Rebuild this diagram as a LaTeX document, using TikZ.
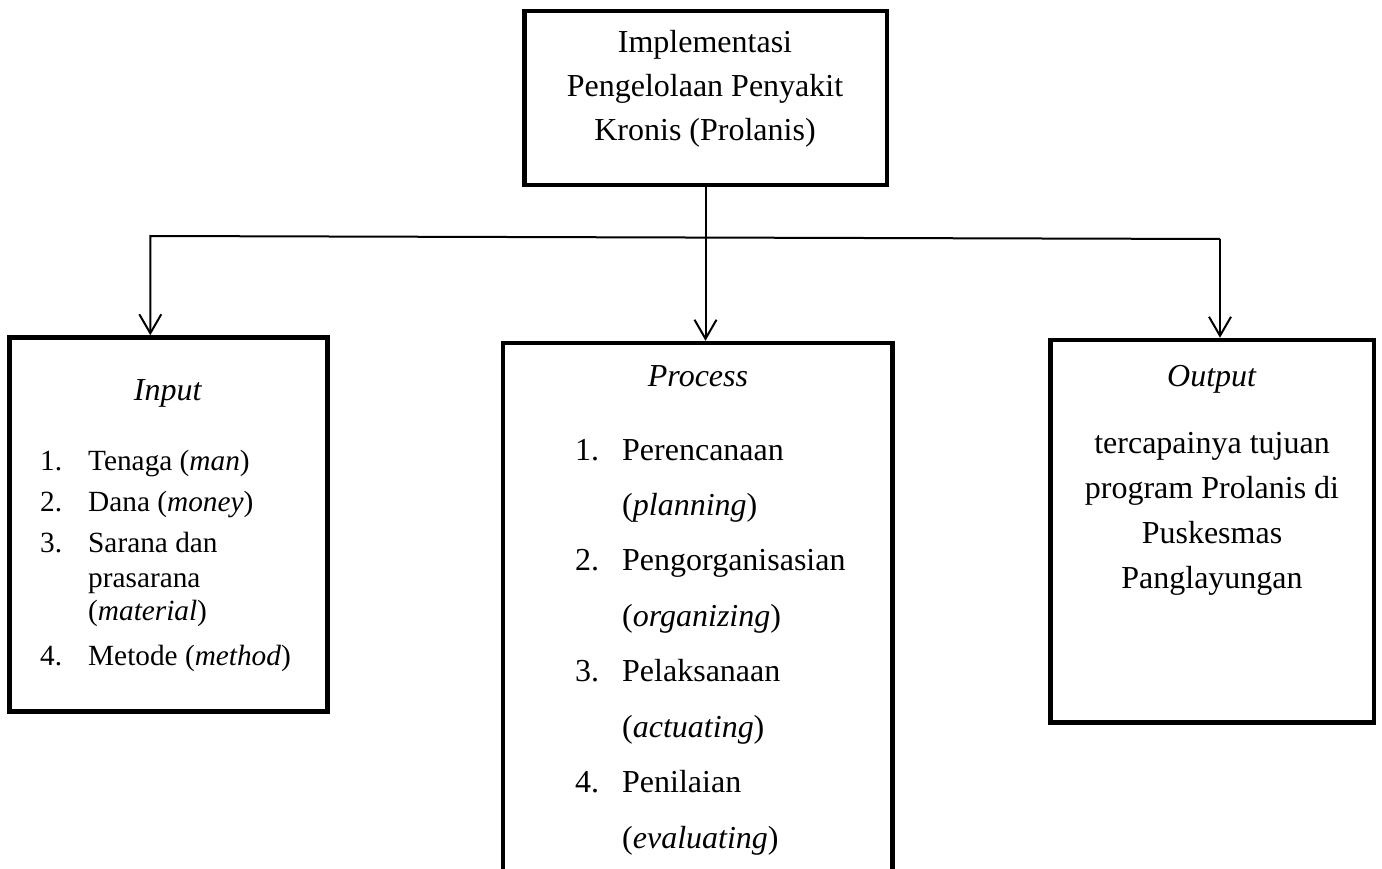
\documentclass[tikz,border=0pt]{standalone}
\usepackage{fontspec}
\setmainfont{Liberation Serif}
\usetikzlibrary{arrows.meta}
\newcommand\szbig{\fontsize{32}{38}\selectfont}
\newcommand\szsmall{\fontsize{29.3}{34}\selectfont}
\begin{document}
\begin{tikzpicture}[x=1pt,y=-1pt,
  box/.style={draw, line width=4.5pt, inner sep=0pt},
  conn/.style={line width=2pt, line join=miter, -{Straight Barb[length=19pt,width=22pt]}},
  tb/.style={font=\szbig, anchor=base, inner sep=0pt},
  tbl/.style={font=\szbig, anchor=base west, inner sep=0pt},
  ts/.style={font=\szsmall, anchor=base west, inner sep=0pt}]
\useasboundingbox (0,0) rectangle (1382,869);
\clip (0,0) rectangle (1382,869);

% boxes
\node[box, minimum width=362.5pt, minimum height=174pt] (top) at (705.5,98) {};
\node[box, minimum width=318pt, minimum height=374pt] (input) at (168.5,524.5) {};
\node[box, minimum width=389.5pt, minimum height=607pt] (process) at (697.75,646.5) {};
\node[box, minimum width=323.5pt, minimum height=382.5pt] (output) at (1212.25,531.25) {};

% top text
\node[tb] (t1) at (705,53) {Implementasi};
\node[tb] (t2) at (705,97) {Pengelolaan Penyakit};
\node[tb] (t3) at (705,141) {Kronis (Prolanis)};

% connectors
\coordinate (L) at (150.3,236);
\coordinate (R) at (1220,239);
\draw[conn] (R) -- (L) -- (L |- input.north);
\draw[conn] (R) -- (R |- output.north);
\draw[conn] (top.south) -- (top.south |- process.north);

% input text
\node[tb] (inh) at (168,400) {\textit{Input}};
\node[ts] (in1n) at (40,470) {1.};
\node[ts] (in1) at (88,470) {Tenaga (\textit{man})};
\node[ts] (in2n) at (40,511) {2.};
\node[ts] (in2) at (88,511) {Dana (\textit{money})};
\node[ts] (in3n) at (40,552) {3.};
\node[ts] (in3a) at (88,552) {Sarana dan};
\node[ts] (in3b) at (88,587) {prasarana};
\node[ts] (in3c) at (88,620) {(\textit{material})};
\node[ts] (in4n) at (40,665) {4.};
\node[ts] (in4) at (88,665) {Metode (\textit{method})};

% process text
\node[tb] (prh) at (698,386) {\textit{Process}};
\node[tbl] (p1n) at (575,460) {1.};
\node[tbl] (p1a) at (622,460) {Perencanaan};
\node[tbl] (p1b) at (622,515.4) {(\textit{planning})};
\node[tbl] (p2n) at (575,570.9) {2.};
\node[tbl] (p2a) at (622,570.9) {Pengorganisasian};
\node[tbl] (p2b) at (622,626.3) {(\textit{organizing})};
\node[tbl] (p3n) at (575,681.7) {3.};
\node[tbl] (p3a) at (622,681.7) {Pelaksanaan};
\node[tbl] (p3b) at (622,737.1) {(\textit{actuating})};
\node[tbl] (p4n) at (575,792.6) {4.};
\node[tbl] (p4a) at (622,792.6) {Penilaian};
\node[tbl] (p4b) at (622,848) {(\textit{evaluating})};

% output text
\node[tb] (outh) at (1212,386) {\textit{Output}};
\node[tb] (o1) at (1212,453) {tercapainya tujuan};
\node[tb] (o2) at (1212,498) {program Prolanis di};
\node[tb] (o3) at (1212,543) {Puskesmas};
\node[tb] (o4) at (1212,588) {Panglayungan};
\end{tikzpicture}
\end{document}
